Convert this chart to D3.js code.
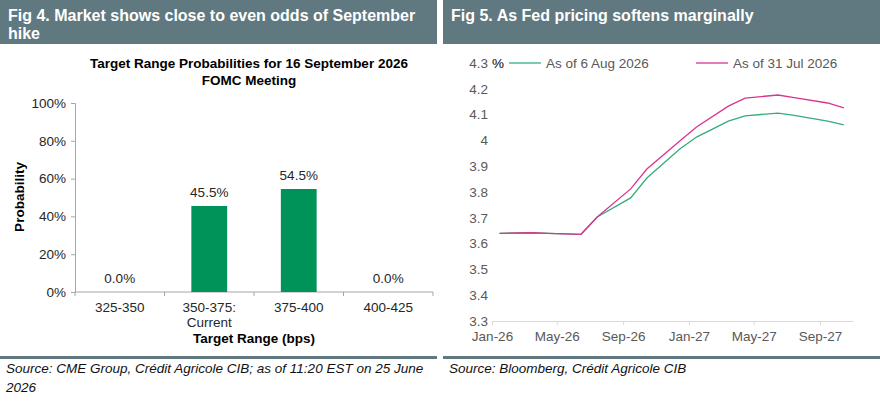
<!DOCTYPE html>
<html>
<head>
<meta charset="utf-8">
<script src="https://cdn.jsdelivr.net/npm/d3@7"></script>
<style>
  body { margin: 0; background: #fff; }
  svg { display: block; font-family: "Liberation Sans", Arial, sans-serif; }
</style>
</head>
<body>
<svg id="chart" width="880" height="403"></svg>
<script>
// Fig 4 data
var ranges = ["325-350", "350-375:\nCurrent", "375-400", "400-425"];
var probs = [0.0, 0.455, 0.545, 0.0];
var probTicks = [0, 0.2, 0.4, 0.6, 0.8, 1.0];

// Fig 5 data (meeting months)
var months = ["2026-01", "2026-03", "2026-04", "2026-06", "2026-07", "2026-09", "2026-10", "2026-12",
              "2027-01", "2027-03", "2027-04", "2027-06", "2027-07", "2027-09", "2027-10"];
var aug6 = [3.640, 3.642, 3.640, 3.636, 3.703, 3.777, 3.854, 3.967,
            4.013, 4.075, 4.095, 4.106, 4.097, 4.075, 4.060];
var jul31 = [3.640, 3.642, 3.640, 3.636, 3.703, 3.812, 3.889, 3.998,
             4.052, 4.133, 4.164, 4.176, 4.166, 4.145, 4.126];
var rateTicks = [3.3, 3.4, 3.5, 3.6, 3.7, 3.8, 3.9, 4.0, 4.1, 4.2, 4.3];

var svg = d3.select("#chart");
var slate = "#607880";
var fs = "13.5px";

// panel headers
function header(x0, w, lines) {
  svg.append("rect")
      .attr("x", x0).attr("y", 0)
      .attr("width", w).attr("height", 44)
      .attr("fill", slate);
  lines.forEach(function(t, i) {
    svg.append("text")
        .attr("x", x0 + 8)
        .attr("y", 21 + i * 18)
        .attr("fill", "#fff")
        .attr("font-size", "16px")
        .attr("font-weight", "bold")
        .text(t);
  });
}
header(0, 437, ["Fig 4. Market shows close to even odds of September", "hike"]);
header(443, 437, ["Fig 5. As Fed pricing softens marginally"]);

// footers
function footer(x0, w, lines) {
  svg.append("rect")
      .attr("x", x0).attr("y", 356)
      .attr("width", w).attr("height", 3)
      .attr("fill", slate);
  lines.forEach(function(t, i) {
    svg.append("text")
        .attr("x", x0 + 6)
        .attr("y", 373 + i * 19)
        .attr("fill", "#111")
        .attr("font-size", fs)
        .attr("font-style", "italic")
        .text(t);
  });
}
footer(0, 437, ["Source: CME Group, Crédit Agricole CIB; as of 11:20 EST on 25 June", "2026"]);
footer(443, 437, ["Source: Bloomberg, Crédit Agricole CIB"]);

// ---------- Fig 4: bar chart ----------
var x4 = d3.scaleBand()
           .domain(ranges)
           .range([75, 433])
           .paddingInner(0.6)
           .paddingOuter(0.3);

var y4 = d3.scaleLinear()
           .domain([0, 1])
           .range([292, 103]);

var left = svg.append("g");

left.append("text")
    .attr("x", 249).attr("y", 68)
    .attr("text-anchor", "middle")
    .attr("font-size", fs)
    .attr("font-weight", "bold")
    .attr("fill", "#000")
    .text("Target Range Probabilities for 16 September 2026");
left.append("text")
    .attr("x", 249).attr("y", 85)
    .attr("text-anchor", "middle")
    .attr("font-size", fs)
    .attr("font-weight", "bold")
    .attr("fill", "#000")
    .text("FOMC Meeting");

var yAxis4 = left.append("g")
    .attr("transform", "translate(75,0)")
    .call(d3.axisLeft(y4).tickValues(probTicks).tickFormat(d3.format(".0%")).tickSize(4).tickPadding(5));
yAxis4.selectAll("path, line").attr("stroke", "#a6a6a6");
yAxis4.selectAll("text").attr("font-size", fs).attr("fill", "#262626")
      .attr("font-family", "Liberation Sans, Arial, sans-serif");

// x axis baseline with ticks at category boundaries
var gap = (x4.step() - x4.bandwidth()) / 2;
var bounds = ranges.map(function(r) { return x4(r) - gap; }).concat([433]);
left.append("line")
    .attr("x1", 75).attr("x2", 433)
    .attr("y1", y4(0)).attr("y2", y4(0))
    .attr("stroke", "#a6a6a6");
left.selectAll(".xtick")
    .data(bounds)
    .enter()
    .append("line")
    .attr("x1", d => d).attr("x2", d => d)
    .attr("y1", y4(0)).attr("y2", y4(0) + 4)
    .attr("stroke", "#a6a6a6");

left.selectAll(".bar")
    .data(probs)
    .enter()
    .append("rect")
    .classed("bar", true)
    .attr("x", (d, i) => x4(ranges[i]))
    .attr("width", x4.bandwidth())
    .attr("y", d => y4(d))
    .attr("height", d => y4(0) - y4(d))
    .attr("fill", "#009359");

left.selectAll(".val")
    .data(probs)
    .enter()
    .append("text")
    .attr("x", (d, i) => x4(ranges[i]) + x4.bandwidth() / 2)
    .attr("y", d => y4(d) - 9)
    .attr("text-anchor", "middle")
    .attr("font-size", fs)
    .attr("fill", "#262626")
    .text(d => d3.format(".1%")(d));

ranges.forEach(function(r) {
  r.split("\n").forEach(function(t, j) {
    left.append("text")
        .attr("x", x4(r) + x4.bandwidth() / 2)
        .attr("y", 312 + j * 15)
        .attr("text-anchor", "middle")
        .attr("font-size", fs)
        .attr("fill", "#262626")
        .text(t);
  });
});

left.append("text")
    .attr("x", 254).attr("y", 343)
    .attr("text-anchor", "middle")
    .attr("font-size", fs)
    .attr("font-weight", "bold")
    .attr("fill", "#000")
    .text("Target Range (bps)");

left.append("text")
    .attr("transform", "translate(24,197) rotate(-90)")
    .attr("text-anchor", "middle")
    .attr("font-size", fs)
    .attr("font-weight", "bold")
    .attr("fill", "#000")
    .text("Probability");

// ---------- Fig 5: line chart ----------
var parseMonth = d3.timeParse("%Y-%m");
var mid = months.map(function(m) { return d3.timeDay.offset(parseMonth(m), 14); });

var x5 = d3.scaleTime()
           .domain([new Date(2026, 0, 1), new Date(2027, 10, 1)])
           .range([492, 853]);
var y5 = d3.scaleLinear()
           .domain([3.3, 4.3])
           .range([321, 63]);

var right = svg.append("g");

var xAxis5 = right.append("g")
    .attr("transform", "translate(0,321)")
    .call(d3.axisBottom(x5).ticks(d3.timeMonth.every(4)).tickFormat(d3.timeFormat("%b-%y")).tickSize(4).tickPadding(6).tickSizeOuter(0));
xAxis5.selectAll("path, line").attr("stroke", "#d9d9d9");
xAxis5.selectAll("text").attr("font-size", fs).attr("fill", "#595959")
      .attr("font-family", "Liberation Sans, Arial, sans-serif");

var yAxis5 = right.append("g")
    .attr("transform", "translate(492,0)")
    .call(d3.axisLeft(y5).tickValues(rateTicks).tickFormat(d => String(+d.toFixed(1))).tickSize(0).tickPadding(4));
yAxis5.select(".domain").remove();
yAxis5.selectAll("text").attr("font-size", fs).attr("fill", "#595959")
      .attr("font-family", "Liberation Sans, Arial, sans-serif");

var line = d3.line()
             .x((d, i) => x5(mid[i]))
             .y(d => y5(d));

right.append("path")
    .datum(aug6)
    .attr("d", line)
    .attr("fill", "none")
    .attr("stroke", "#35ad7a")
    .attr("stroke-width", 1.3);

right.append("path")
    .datum(jul31)
    .attr("d", line)
    .attr("fill", "none")
    .attr("stroke", "#d9358f")
    .attr("stroke-width", 1.3);

// legend
right.append("text")
    .attr("x", 492).attr("y", 68)
    .attr("font-size", fs)
    .attr("fill", "#000")
    .text("%");
var legend = [
  { x: 509, label: "As of 6 Aug 2026", color: "#35ad7a" },
  { x: 696, label: "As of 31 Jul 2026", color: "#d9358f" }
];
legend.forEach(function(l) {
  right.append("line")
      .attr("x1", l.x).attr("x2", l.x + 32)
      .attr("y1", 63).attr("y2", 63)
      .attr("stroke", l.color)
      .attr("stroke-width", 1.3);
  right.append("text")
      .attr("x", l.x + 37).attr("y", 68)
      .attr("font-size", fs)
      .attr("fill", "#595959")
      .text(l.label);
});
</script>
</body>
</html>
